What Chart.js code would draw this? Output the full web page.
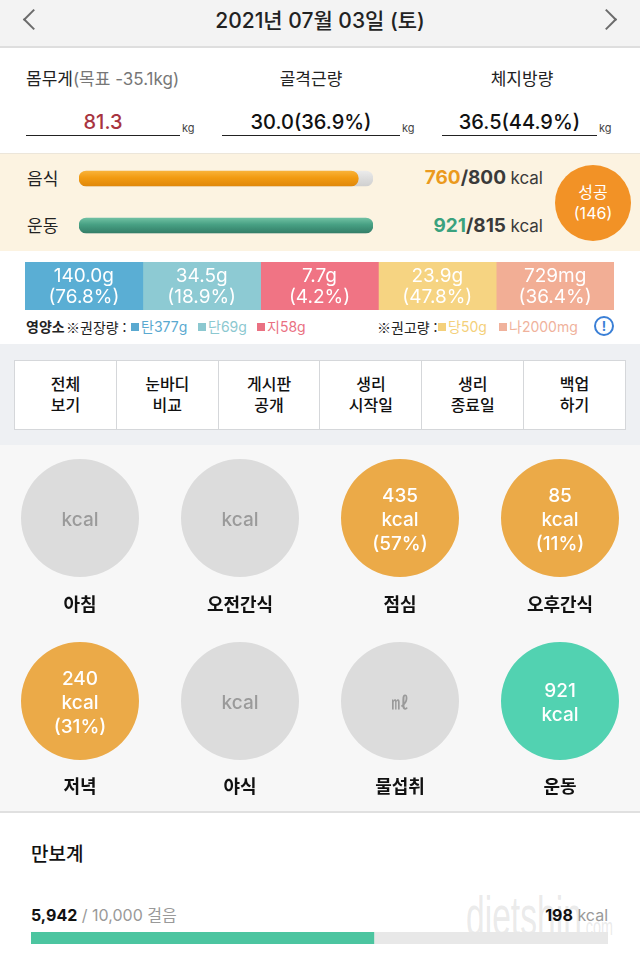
<!DOCTYPE html>
<html lang="ko">
<head>
<meta charset="utf-8">
<script src="https://cdn.jsdelivr.net/npm/chart.js@4"></script>
<style>
  body { margin: 0; width: 640px; height: 960px; overflow: hidden; position: relative;
         font-family: Inter, "Noto Sans CJK KR", "Noto Sans", sans-serif; color: #222; background: #fff; }
  .a { position: absolute; }
  .t { position: absolute; white-space: nowrap; }
  .box { position: absolute; }
  .cjk { font-family: "Noto Sans CJK KR", sans-serif; }
  .chev { position: absolute; width: 15px; height: 15px; border: solid #6b6b6b; box-sizing: border-box; transform: rotate(45deg); }
  .btns { position: absolute; left: 14px; top: 360px; width: 612px; height: 70px; display: flex; background: #fff;
          border: 1px solid #d5d7da; box-sizing: border-box; }
  .btns div { flex: 1; border-right: 1px solid #d5d7da; display: flex; align-items: center; justify-content: center;
              text-align: center; font-size: 16px; line-height: 21px; font-weight: 500; color: #111; }
  .btns div:last-child { border-right: none; }
  .circ-text { position: absolute; width: 118px; height: 118px; display: flex; flex-direction: column;
               align-items: center; justify-content: center; font-size: 19px; line-height: 24px; font-weight: 500; }
  .meal-label { position: absolute; width: 160px; text-align: center; font-size: 18px; line-height: 24px; font-weight: 700; color: #111; }
  .lg { position: absolute; top: 318px; font-size: 14px; line-height: 18px; white-space: nowrap; }
  .sq { display: inline-block; width: 8px; height: 8px; margin-right: 2px; vertical-align: 1px; }
</style>
</head>
<body>

<!-- header -->
<div class="a" style="left:0;top:0;width:640px;height:46px;background:#f3f3f3;border-bottom:2px solid #dedede"></div>
<div class="chev" style="left:26px;top:12px;border-width:0 0 2px 2px"></div>
<div class="chev" style="left:599px;top:12px;border-width:2px 2px 0 0"></div>
<div class="t" style="left:0;width:640px;text-align:center;top:7px;font-size:21px;line-height:28px;font-weight:500;color:#222">2021년 07월 03일 (토)</div>

<!-- body measurements -->
<div class="t" style="left:26px;top:67px;font-size:17px;line-height:24px;color:#222">몸무게<span style="color:#777">(목표 -35.1kg)</span></div>
<div class="t" style="left:222px;width:178px;text-align:center;top:67px;font-size:17px;line-height:24px">골격근량</div>
<div class="t" style="left:442px;width:160px;text-align:center;top:67px;font-size:17px;line-height:24px">체지방량</div>

<div class="t" style="left:26px;width:154px;text-align:center;top:108px;font-size:20px;line-height:28px;font-weight:500;color:#a8343f">81.3</div>
<div class="a" style="left:26px;top:135px;width:154px;height:1px;background:#222"></div>
<div class="t" style="left:182px;top:120px;font-size:11px;line-height:16px;color:#444">kg</div>
<div class="t" style="left:222px;width:178px;text-align:center;top:108px;font-size:20px;line-height:28px;font-weight:500;color:#111">30.0(36.9%)</div>
<div class="a" style="left:222px;top:135px;width:178px;height:1px;background:#222"></div>
<div class="t" style="left:402px;top:120px;font-size:11px;line-height:16px;color:#444">kg</div>
<div class="t" style="left:442px;width:155px;text-align:center;top:108px;font-size:20px;line-height:28px;font-weight:500;color:#111">36.5(44.9%)</div>
<div class="a" style="left:442px;top:135px;width:155px;height:1px;background:#222"></div>
<div class="t" style="left:599px;top:120px;font-size:11px;line-height:16px;color:#444">kg</div>

<!-- calories band -->
<div class="a" style="left:0;top:153px;width:640px;height:97px;background:#fcf3e1;border-top:1px solid #ece6da"></div>
<div class="t" style="left:27px;top:167px;font-size:17px;line-height:24px">음식</div>
<div class="t" style="left:27px;top:214px;font-size:17px;line-height:24px">운동</div>
<div class="box" style="left:79px;top:155px;width:294px;height:94px"><canvas id="goalChart"></canvas></div>
<div class="t" style="right:97px;top:166px;font-size:19px;line-height:24px;font-weight:700;color:#3a3a3a"><span style="color:#eb9a1e">760</span>/800 <span style="font-weight:400;font-size:17px">kcal</span></div>
<div class="t" style="right:97px;top:214px;font-size:19px;line-height:24px;font-weight:700;color:#3a3a3a"><span style="color:#3aa27e">921</span>/815 <span style="font-weight:400;font-size:17px">kcal</span></div>
<div class="a" style="left:555px;top:165px;width:76px;height:76px;border-radius:50%;background:#f29226;color:#fff;
     display:flex;flex-direction:column;align-items:center;justify-content:center;font-size:16px;line-height:21px">
  <div>성공</div><div>(146)</div>
</div>

<!-- nutrients -->
<div class="box" style="left:25px;top:262px;width:589px;height:48px"><canvas id="nutriChart"></canvas></div>
<div class="lg" style="left:26px;font-weight:700;color:#222">영양소</div>
<div class="lg cjk" style="left:66px;color:#222">※권장량 :</div>
<div class="lg" style="left:131px;color:#5aa9d0"><span class="sq" style="background:#5aa9d0"></span>탄377g</div>
<div class="lg" style="left:198px;color:#8cc8d0"><span class="sq" style="background:#8cc8d0"></span>단69g</div>
<div class="lg" style="left:257px;color:#ea7182"><span class="sq" style="background:#ea7182"></span>지58g</div>
<div class="lg cjk" style="left:377px;color:#222">※권고량 :</div>
<div class="lg" style="left:438px;color:#f4d07a"><span class="sq" style="background:#f4d07a"></span>당50g</div>
<div class="lg" style="left:499px;color:#f0b29c"><span class="sq" style="background:#f0b29c"></span>나2000mg</div>
<div class="a" style="left:594px;top:316px;width:16px;height:16px;border:2px solid #3a7fd6;border-radius:50%;
     color:#3a7fd6;font-size:13px;line-height:16px;text-align:center;font-weight:700">!</div>

<!-- buttons -->
<div class="a" style="left:0;top:344px;width:640px;height:101px;background:#eef0f3"></div>
<div class="btns">
  <div>전체<br>보기</div><div>눈바디<br>비교</div><div>게시판<br>공개</div>
  <div>생리<br>시작일</div><div>생리<br>종료일</div><div>백업<br>하기</div>
</div>

<!-- meals -->
<div class="a" style="left:0;top:445px;width:640px;height:366px;background:#f7f7f7"></div>
<div class="a" style="left:0;top:811px;width:640px;height:2px;background:#e0e0e0"></div>
<div id="meals"></div>

<!-- pedometer -->
<div class="t" style="left:466px;top:886px;font-family:'Liberation Sans',sans-serif;font-size:56px;line-height:60px;
     color:rgba(185,185,185,0.3);transform:scaleX(0.6);transform-origin:0 0">dietshin<span style="font-size:24px">.com</span></div>
<div class="t" style="left:31px;top:841px;font-size:19px;line-height:28px;font-weight:500;color:#111">만보계</div>
<div class="t" style="left:31px;top:904px;font-size:16px;line-height:22px;color:#999"><span style="color:#111;font-weight:700">5,942</span> / 10,000 걸음</div>
<div class="t" style="right:32px;top:904px;font-size:16px;line-height:22px;color:#999"><span style="color:#111;font-weight:700">198</span> kcal</div>
<div class="box" style="left:31px;top:932px;width:577px;height:12px"><canvas id="stepChart"></canvas></div>

<script>
// calorie goals
const goalLabels = ["음식", "운동"];
const goalKcal = [800, 815];
const doneKcal = [760, 921];

// nutrients
const nutrientNames = ["탄수화물", "단백질", "지방", "당", "나트륨"];
const nutrientAmounts = ["140.0g", "34.5g", "7.7g", "23.9g", "729mg"];
const nutrientPercents = [76.8, 18.9, 4.2, 47.8, 36.4];

// meals
const mealNames = ["아침", "오전간식", "점심", "오후간식", "저녁", "야식", "물섭취", "운동"];
const mealValues = [0, 0, 435, 85, 240, 0, 0, 921];
const mealPercents = [null, null, 57, 11, 31, null, null, null];
const mealUnits = ["kcal", "kcal", "kcal", "kcal", "kcal", "kcal", "㎖", "kcal"];

// pedometer
const stepsDone = [5942];
const stepsGoal = 10000;

const nutrientColors = ["#5aaed4", "#8dcad3", "#f07484", "#f6d482", "#f2ae95"];
const FONT = 'Inter, "Noto Sans CJK KR", "Noto Sans", sans-serif';

Chart.defaults.animation = false;
Chart.defaults.plugins.legend.display = false;
Chart.defaults.plugins.tooltip.enabled = false;
Chart.defaults.maintainAspectRatio = false;
Chart.defaults.events = [];

function barGradient(stops) {
  return (c) => {
    const chart = c.chart;
    if (!chart.chartArea || !chart.scales.y) return stops[1];
    const y = chart.scales.y.getPixelForValue(c.dataIndex);
    const g = chart.ctx.createLinearGradient(0, y - 8, 0, y + 8);
    g.addColorStop(0, stops[0]);
    g.addColorStop(0.45, stops[1]);
    g.addColorStop(1, stops[2]);
    return g;
  };
}
const fillStops = [["#f9b43c", "#f29b12", "#df870a"], ["#72c2a4", "#47a083", "#337c66"]];

new Chart(document.getElementById("goalChart"), {
  type: "bar",
  data: {
    labels: goalLabels,
    datasets: [
      {
        data: doneKcal.map((v, i) => Math.min(100, (v / goalKcal[i]) * 100)),
        backgroundColor: (c) => barGradient(fillStops[c.dataIndex])(c),
        grouped: false, order: 0, barThickness: 15, borderRadius: 8, borderSkipped: false,
      },
      {
        data: goalKcal.map(() => 100),
        backgroundColor: barGradient(["#ececec", "#dedede", "#cfcfcf"]),
        grouped: false, order: 1, barThickness: 15, borderRadius: 8, borderSkipped: false,
      },
    ],
  },
  options: {
    indexAxis: "y",
    layout: { padding: 0 },
    scales: {
      x: { display: false, min: 0, max: 100 },
      y: { display: false },
    },
  },
});

const cellLabels = {
  id: "cellLabels",
  afterDatasetsDraw(chart) {
    const ctx = chart.ctx;
    ctx.save();
    ctx.fillStyle = "#fff";
    ctx.textAlign = "center";
    ctx.textBaseline = "middle";
    ctx.font = "19px " + FONT;
    chart.data.datasets.forEach((ds, i) => {
      const el = chart.getDatasetMeta(i).data[0];
      const cx = (el.x + el.base) / 2;
      ctx.fillText(nutrientAmounts[i], cx, el.y - 10);
      ctx.fillText("(" + nutrientPercents[i].toFixed(1) + "%)", cx, el.y + 11);
    });
    ctx.restore();
  },
};

new Chart(document.getElementById("nutriChart"), {
  type: "bar",
  data: {
    labels: [""],
    datasets: nutrientNames.map((n, i) => ({
      label: n,
      data: [1],
      backgroundColor: nutrientColors[i],
      borderWidth: 0,
      barPercentage: 1,
      categoryPercentage: 1,
    })),
  },
  options: {
    indexAxis: "y",
    scales: {
      x: { display: false, stacked: true, min: 0, max: nutrientNames.length },
      y: { display: false, stacked: true },
    },
  },
  plugins: [cellLabels],
});

new Chart(document.getElementById("stepChart"), {
  type: "bar",
  data: {
    labels: ["걸음"],
    datasets: [
      { data: stepsDone, backgroundColor: "#4cc5a0", grouped: false, order: 0, barPercentage: 1, categoryPercentage: 1 },
      { data: [stepsGoal], backgroundColor: "#e8e8e8", grouped: false, order: 1, barPercentage: 1, categoryPercentage: 1 },
    ],
  },
  options: {
    indexAxis: "y",
    scales: {
      x: { display: false, min: 0, max: stepsGoal },
      y: { display: false },
    },
  },
});

// meal circles
const meals = document.getElementById("meals");
mealNames.forEach((name, i) => {
  const col = i % 4, row = Math.floor(i / 4);
  const left = col * 160 + 21;
  const top = row ? 642 : 459;
  const filled = mealValues[i] > 0;
  const color = !filled ? "#dcdcdc" : name === "운동" ? "#52d2b1" : "#ebaa48";

  const box = document.createElement("div");
  box.className = "box";
  box.style.cssText = `left:${left}px;top:${top}px;width:118px;height:118px`;
  const cv = document.createElement("canvas");
  box.appendChild(cv);
  meals.appendChild(box);

  new Chart(cv, {
    type: "pie",
    data: {
      labels: [name],
      datasets: [{ data: [filled ? mealValues[i] : 1], backgroundColor: [color], borderWidth: 0 }],
    },
    options: { layout: { padding: 0 } },
  });

  const txt = document.createElement("div");
  txt.className = "circ-text";
  txt.style.cssText = `left:${left}px;top:${top + 2}px;color:${filled ? "#fff" : "#9a9a9a"}`;
  let lines = [];
  if (filled) lines.push(mealValues[i]);
  lines.push(mealUnits[i]);
  if (mealPercents[i] != null) lines.push("(" + mealPercents[i] + "%)");
  txt.innerHTML = lines.map((l) => `<div>${l}</div>`).join("");
  if (mealUnits[i] === "㎖") txt.style.fontSize = "17px";
  meals.appendChild(txt);

  const lbl = document.createElement("div");
  lbl.className = "meal-label";
  lbl.style.cssText = `left:${col * 160}px;top:${row ? 775 : 593}px`;
  lbl.textContent = name;
  meals.appendChild(lbl);
});
</script>
</body>
</html>
